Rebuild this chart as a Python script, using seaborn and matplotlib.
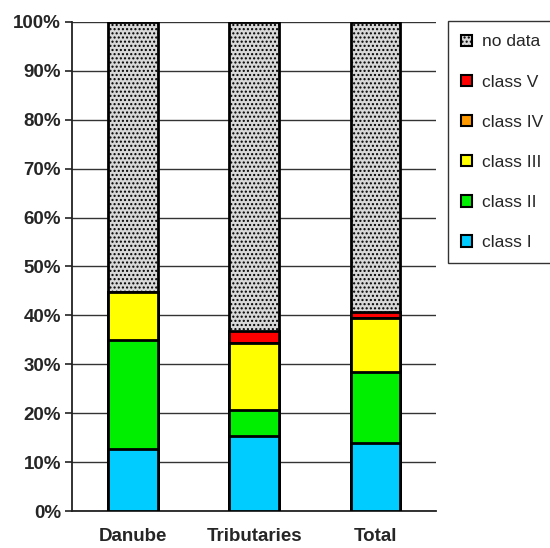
import matplotlib
matplotlib.use("Agg")
import matplotlib.pyplot as plt
import matplotlib.patches as mpatches
import seaborn as sns
import pandas as pd
import numpy as np

categories = ["Danube", "Tributaries", "Total"]
class_I = [12.6, 15.4, 14.0]
class_II = [22.4, 5.3, 14.4]
class_III = [9.7, 13.6, 11.1]
class_IV = [0.0, 0.0, 0.0]
class_V = [0.0, 2.5, 1.1]
no_data = [55.3, 63.2, 59.4]

series_names = ["class I", "class II", "class III", "class IV", "class V", "no data"]
series_vals = [class_I, class_II, class_III, class_IV, class_V, no_data]
colors = ["#00CCFF", "#00EE00", "#FFFF00", "#FF9900", "#FF0000", "#D8D8D8"]

sns.set_style("white")
plt.rcParams['font.family'] = ['Liberation Sans', 'DejaVu Sans']
plt.rcParams['hatch.linewidth'] = 1.0

fig = plt.figure(figsize=(5.5, 5.48), dpi=100)
ax = fig.add_axes([0.131, 0.0675, 0.662, 0.8925])

cum = np.cumsum(np.array(series_vals), axis=0)
# draw from top to bottom so lower layers overlay
for i in range(len(series_names) - 1, -1, -1):
    df = pd.DataFrame({"cat": categories, "val": cum[i]})
    sns.barplot(data=df, x="cat", y="val", ax=ax, color=colors[i],
                width=0.41, edgecolor="black", linewidth=2.0,
                hatch="...." if series_names[i] == "no data" else None,
                saturation=1, zorder=3)

ax.set_ylim(0, 100)
ax.set_xlim(-0.5, 2.5)
ax.set_yticks(np.arange(0, 101, 10))
ax.set_yticklabels([f"{v}%" for v in range(0, 101, 10)], fontweight="bold", fontsize=13.5)
ax.set_xticks([0, 1, 2])
ax.set_xticklabels(categories, fontweight="bold", fontsize=13.5)
ax.set_xlabel("")
ax.set_ylabel("")
ax.yaxis.grid(True, color="#333333", linewidth=1.0, zorder=0)
ax.set_axisbelow(True)
for s in ["top", "right"]:
    ax.spines[s].set_visible(False)
for s in ["left", "bottom"]:
    ax.spines[s].set_color("#222222")
    ax.spines[s].set_linewidth(1.3)
# minor ticks between categories on x axis
ax.set_xticks([-0.5, 0.5, 1.5, 2.5], minor=True)
ax.tick_params(axis="x", which="major", length=0, pad=12)
ax.tick_params(axis="x", which="minor", length=5, width=1.2, color="#222222", direction="out")
ax.tick_params(axis="y", which="major", length=5, width=1.2, color="#222222", direction="out", left=True, pad=3)

handles = []
for i in range(len(series_names) - 1, -1, -1):
    handles.append(mpatches.Patch(facecolor=colors[i], edgecolor="black", linewidth=1.5,
                                  hatch="...." if series_names[i] == "no data" else None,
                                  label=series_names[i]))
leg = fig.legend(handles=handles, loc="upper left", bbox_to_anchor=(0.815, 0.961),
                 fontsize=12.5, frameon=True, fancybox=False, edgecolor="black",
                 handlelength=0.63, handleheight=0.63, labelspacing=1.45,
                 borderpad=0.75, handletextpad=0.57, borderaxespad=0)
leg.get_frame().set_linewidth(1.0)

fig.savefig("out.png", dpi=100)
